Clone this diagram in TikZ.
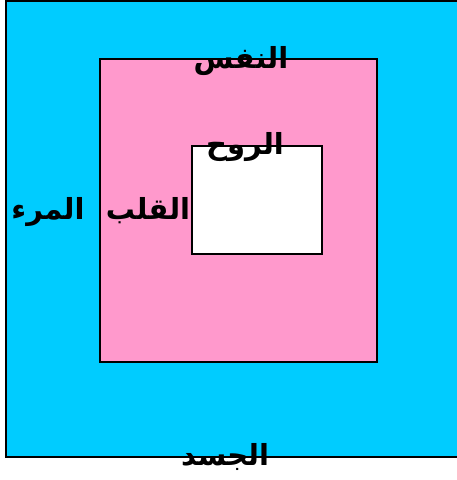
\documentclass[tikz,border=0pt]{standalone}
\usepackage{fontspec}
\newfontfamily\arabicfont[Script=Arabic]{DejaVu Sans}
\TeXXeTstate=1
\usetikzlibrary{positioning}
\definecolor{skyblue}{HTML}{00CCFF}
\definecolor{rosepink}{HTML}{FF99CC}

\begin{document}
\begin{tikzpicture}[
    x=1pt,
    y=-1pt,
    box/.style={
        draw=black,
        line width=1.6pt
    },
    word/.style={
        anchor=base,
        inner sep=0pt,
        font=\arabicfont\bfseries\fontsize{29}{32}\selectfont
    }
]
\useasboundingbox (0,0) rectangle (457,480);

% Boxes
\filldraw[box, fill=skyblue] (6,1) rectangle (458,457);
\filldraw[box, fill=rosepink] (100,59) rectangle (377,362);
\filldraw[box, fill=white] (192,146) rectangle (322,254);

% Labels
\node[word] (nafs) at (241,68) {\beginR النفس\endR};
\node[word] (ruh) at (245,154) {\beginR الروح\endR};
\node[word] (qalb) at (148,219) {\beginR القلب\endR};
\node[word] (mar) at (48,219) {\beginR المرء\endR};
\node[word] (jasad) at (225,465) {\beginR الجسد\endR};

\end{tikzpicture}
\end{document}
